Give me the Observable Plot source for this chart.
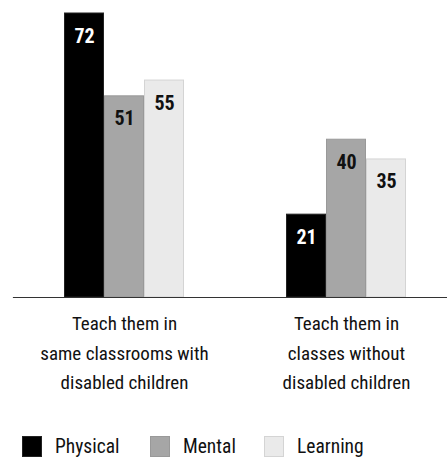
<!DOCTYPE html>
<html>
<head>
<meta charset="utf-8">
<script src="https://cdn.jsdelivr.net/npm/d3@7"></script>
<script src="https://cdn.jsdelivr.net/npm/@observablehq/plot@0.6"></script>
<style>
  body { margin: 0; background: #fff; }
  #chart svg text { font-stretch: 75%; }
  #legend { display: flex; align-items: center; margin-top: 30px; padding-left: 22px; height: 23px;
    font-family: Roboto, sans-serif; font-stretch: 75%; font-size: 19.5px; color: #111; }
  #legend .item { display: flex; align-items: center; }
  #legend .sw { width: 20px; height: 21px; box-sizing: border-box; border: 1px solid; margin-right: 13px; }
</style>
</head>
<body>
<div id="chart"></div>
<div id="legend"></div>
<script>
const categories = [
  "Teach them in\nsame classrooms with\ndisabled children",
  "Teach them in\nclasses without\ndisabled children"
];
const types = ["Physical", "Mental", "Learning"];
const physical = [72, 21];
const mental = [51, 40];
const learning = [55, 35];
const fills = ["#000000", "#a6a6a6", "#eaeaea"];
const strokes = ["#222222", "#999999", "#d4d4d4"];
const labelColors = ["#ffffff", "#111111", "#111111"];

const series = [physical, mental, learning];
const data = [];
categories.forEach((c, i) => types.forEach((t, j) => data.push({category: c, type: t, value: series[j][i]})));

const chart = Plot.plot({
  width: 447,
  height: 405,
  marginTop: 13,
  marginBottom: 108,
  marginLeft: 12.5,
  marginRight: -9.5,
  style: {fontFamily: "Roboto, sans-serif", background: "#fff"},
  fx: {domain: categories, padding: 0, label: null},
  x: {domain: types, paddingInner: 0.025, paddingOuter: 1.246, axis: null},
  y: {domain: [0, 72], axis: null},
  color: {domain: types, range: fills},
  marks: [
    Plot.barY(data, {fx: "category", x: "type", y: "value", fill: "type",
      stroke: d => strokes[types.indexOf(d.type)], strokeWidth: 1}),
    Plot.text(data, {fx: "category", x: "type", y: "value", text: d => String(d.value),
      fill: d => labelColors[types.indexOf(d.type)], fontWeight: "bold", fontSize: 20,
      lineAnchor: "bottom", dy: 29}),
    Plot.frame({anchor: "bottom", facet: "super", stroke: "#333", strokeWidth: 1.2}),
    Plot.axisFx({anchor: "bottom", tickSize: 0, fontSize: 19, lineHeight: 1.55, dy: 3, fill: "#111", label: null})
  ]
});
document.getElementById("chart").appendChild(chart);

const legend = document.getElementById("legend");
const itemWidths = ["128px", "114px", "auto"];
types.forEach((t, j) => {
  const item = document.createElement("div");
  item.className = "item";
  item.style.width = itemWidths[j];
  const sw = document.createElement("div");
  sw.className = "sw";
  sw.style.background = fills[j];
  sw.style.borderColor = strokes[j];
  item.appendChild(sw);
  const label = document.createElement("span");
  label.textContent = t;
  item.appendChild(label);
  legend.appendChild(item);
});
</script>
</body>
</html>
